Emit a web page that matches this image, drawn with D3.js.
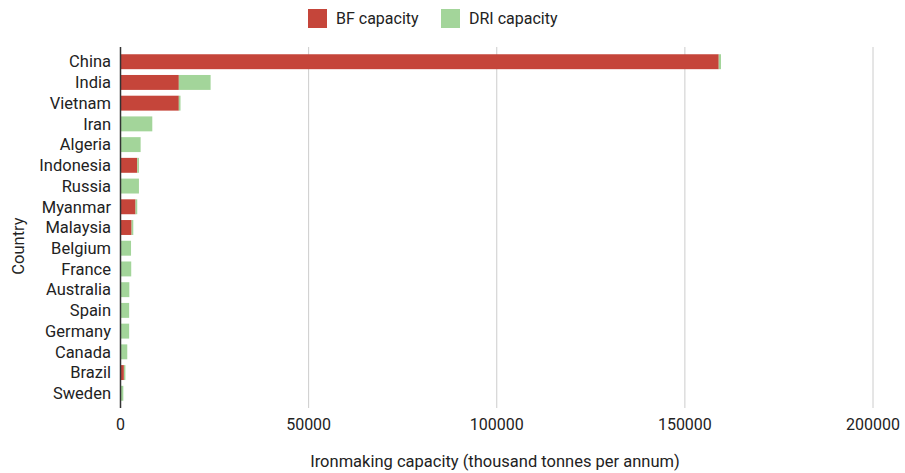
<!DOCTYPE html>
<html>
<head>
<meta charset="utf-8">
<script src="https://cdn.jsdelivr.net/npm/d3@7/dist/d3.min.js"></script>
<style>
  body { margin: 0; background: #fff; }
  text { font-family: Roboto, "Noto Sans", sans-serif; }
</style>
</head>
<body>
<svg id="chart" width="905" height="473"></svg>
<script>
// Ironmaking capacity by country, thousand tonnes per annum
const countries = ["China", "India", "Vietnam", "Iran", "Algeria", "Indonesia", "Russia",
  "Myanmar", "Malaysia", "Belgium", "France", "Australia", "Spain", "Germany",
  "Canada", "Brazil", "Sweden"];
const bfCapacity  = [159000, 15500, 15500, 0, 0, 4450, 0, 4000, 2950, 0, 0, 0, 0, 0, 0, 900, 0];
const driCapacity = [600, 8450, 450, 8450, 5350, 450, 4900, 450, 450, 2800, 2850, 2350, 2300, 2300, 1800, 400, 750];
const seriesNames = ["BF capacity", "DRI capacity"];
const seriesColors = ["#c5453a", "#a3d59a"];
const xTicks = [0, 50000, 100000, 150000, 200000];

const svg = d3.select("#chart");
const plot = { left: 120.5, right: 873, top: 47, bottom: 408 };

const x = d3.scaleLinear().domain([0, 200000]).range([plot.left, plot.right]);
const y = d3.scaleBand().domain(countries).range([plot.top, plot.bottom])
  .paddingInner(0.28).paddingOuter(0.35);

// vertical gridlines
svg.append("g").selectAll("line").data(xTicks.slice(1)).join("line")
  .attr("x1", d => x(d)).attr("x2", d => x(d))
  .attr("y1", plot.top).attr("y2", plot.bottom)
  .attr("stroke", "#cccccc").attr("stroke-width", 1);

// stacked bars
const rows = countries.map((c, i) => ({ country: c, bf: bfCapacity[i], dri: driCapacity[i] }));
const stack = d3.stack().keys(["bf", "dri"])(rows);
svg.append("g").selectAll("g").data(stack).join("g")
  .attr("fill", (d, i) => seriesColors[i])
  .selectAll("rect").data(d => d.filter(s => s[1] > s[0])).join("rect")
  .attr("x", d => x(d[0]))
  .attr("width", d => x(d[1]) - x(d[0]))
  .attr("y", d => y(d.data.country))
  .attr("height", y.bandwidth());

// baseline
svg.append("line")
  .attr("x1", x(0)).attr("x2", x(0))
  .attr("y1", plot.top).attr("y2", plot.bottom)
  .attr("stroke", "#333333").attr("stroke-width", 1.5);

// x axis tick labels
svg.append("g").selectAll("text").data(xTicks).join("text")
  .attr("x", d => x(d)).attr("y", 430)
  .attr("text-anchor", "middle")
  .attr("font-size", 16).attr("fill", "#222")
  .text(d => d);

// country labels
svg.append("g").selectAll("text").data(countries).join("text")
  .attr("x", 111).attr("y", d => y(d) + y.bandwidth() / 2)
  .attr("dy", "0.35em")
  .attr("text-anchor", "end")
  .attr("font-size", 16.5).attr("fill", "#222")
  .text(d => d);

// axis titles
svg.append("text")
  .attr("x", 495).attr("y", 467)
  .attr("text-anchor", "middle").attr("font-size", 16.5).attr("fill", "#222")
  .text("Ironmaking capacity (thousand tonnes per annum)");

svg.append("text")
  .attr("transform", "translate(24,246) rotate(-90)")
  .attr("text-anchor", "middle").attr("font-size", 16.5).attr("fill", "#222")
  .text("Country");

// legend
const legend = svg.append("g");
const legendX = [308, 441];
seriesNames.forEach((name, i) => {
  const g = legend.append("g").attr("transform", `translate(${legendX[i]},9)`);
  g.append("rect").attr("width", 19).attr("height", 19).attr("fill", seriesColors[i]);
  g.append("text").attr("x", 28).attr("y", 15)
    .attr("font-size", 16).attr("fill", "#222").text(name);
});
</script>
</body>
</html>
